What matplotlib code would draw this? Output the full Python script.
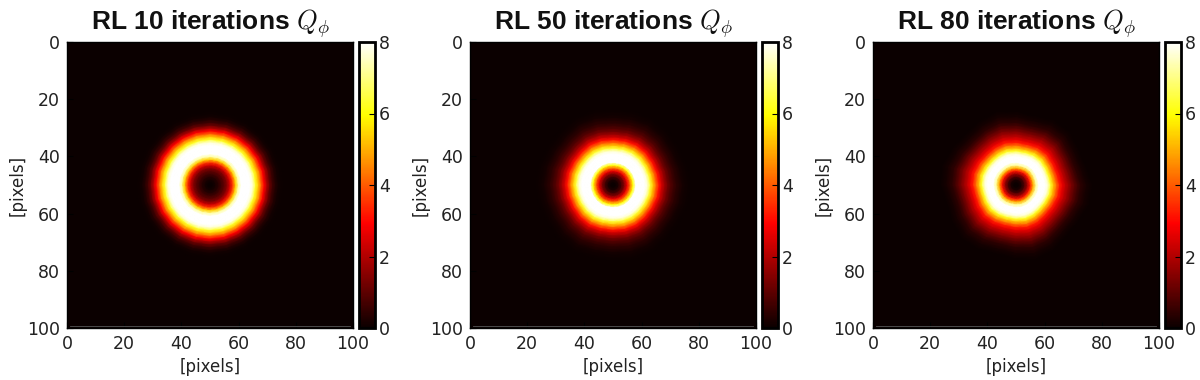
import numpy as np
import matplotlib
matplotlib.use("Agg")
import matplotlib.pyplot as plt

plt.rcParams['mathtext.fontset'] = 'cm'

# ring brightness, one value per pixel of radius from the centre
profile_10 = [0, 0.05, 0.2, 0.4, 0.7, 1.0, 1.5, 2.4, 3.6, 5.4, 7.3, 9.0, 10.0, 10.0, 9.0,
              7.6, 6.3, 5.2, 4.0, 2.9, 1.9, 1.1, 0.6, 0.3, 0.12, 0.04, 0, 0, 0, 0]
profile_50 = [0, 0.05, 0.3, 0.8, 1.5, 2.7, 4.2, 6.0, 8.0, 9.5, 10.0, 9.0, 7.6, 6.4, 5.2,
              4.1, 3.1, 2.3, 1.7, 1.2, 0.85, 0.6, 0.4, 0.25, 0.15, 0.08, 0.05, 0.02, 0, 0]
profile_80 = [0, 0.05, 0.3, 0.9, 1.8, 3.2, 5.0, 7.2, 8.8, 9.5, 8.8, 7.6, 6.3, 5.1, 4.1,
              3.2, 2.6, 2.1, 1.7, 1.3, 0.95, 0.65, 0.4, 0.25, 0.15, 0.08, 0.03, 0.01, 0, 0]

# how far the outer edge leans in or out, every 15 degrees
wobble_10 = [0] * 24
wobble_50 = [0.015, 0.008, -0.008, 0.0, 0.015, 0.008, -0.008, -0.008, 0.015, 0.008, -0.008, 0.0,
             0.015, 0.008, -0.008, -0.008, 0.015, 0.008, -0.008, 0.0, 0.015, 0.008, -0.008, 0.0]
wobble_80 = [0.03, 0.022, -0.015, -0.022, 0.015, 0.03, 0.0, -0.022, 0.008, 0.03, 0.0, -0.022,
             0.022, 0.03, 0.0, -0.022, 0.0, 0.022, 0.0, -0.022, 0.015, 0.022, -0.015, -0.015]

titles = ["RL 10 iterations $Q_\\phi$", "RL 50 iterations $Q_\\phi$", "RL 80 iterations $Q_\\phi$"]
profiles = [profile_10, profile_50, profile_80]
wobbles = [wobble_10, wobble_50, wobble_80]
axis_ticks = [0, 20, 40, 60, 80, 100]
cbar_ticks = [0, 2, 4, 6, 8]
ax_lefts = [67, 470, 873]

W, H = 1200, 380
text_color = '#222222'

fig = plt.figure(figsize=(W / 100, H / 100), dpi=100)

for title, profile, wobble, left in zip(titles, profiles, wobbles, ax_lefts):
    ax = fig.add_axes([left / W, 1 - 328 / H, 286 / W, 286 / H])
    ax.set_facecolor(plt.get_cmap('hot')(0.0))

    # rings around the centre, closed by repeating the first direction
    rings = np.arange(len(profile), dtype=float)
    stretch = np.array(wobble + wobble[:1])
    angles = np.deg2rad(np.arange(len(stretch)) * 15.0)
    rad = rings[:, None] * (1 + stretch[None, :] * rings[:, None] / 20)
    X = 50 + rad * np.cos(angles)[None, :]
    Y = 50 + rad * np.sin(angles)[None, :]
    C = np.repeat(np.array(profile)[:, None], len(stretch), axis=1)
    mesh = ax.pcolormesh(X, Y, C, cmap='hot', vmin=0, vmax=8, shading='gouraud')

    ax.axhline(99.3, xmin=0.01, xmax=0.99, color='#555555', lw=0.6)
    ax.set_xlim(0, 100)
    ax.set_ylim(100, 0)
    ax.set_aspect('equal')
    ax.set_xticks(axis_ticks)
    ax.set_yticks(axis_ticks)
    ax.tick_params(direction='in', length=4, width=0.8, labelsize=12.5,
                   labelcolor=text_color, pad=5)
    ax.set_xlabel("[pixels]", fontsize=12, color=text_color, labelpad=4)
    ax.set_ylabel("[pixels]", fontsize=12, color=text_color, labelpad=0)
    ax.set_title(title, fontsize=19, fontweight='bold', family='Liberation Sans',
                 color='#111111', pad=9)
    for spine in ax.spines.values():
        spine.set_linewidth(1.0)

    cax = fig.add_axes([(left + 292) / W, 1 - 328 / H, 16 / W, 286 / H])
    cbar = fig.colorbar(mesh, cax=cax)
    cbar.set_ticks(cbar_ticks)
    cbar.ax.tick_params(direction='in', length=4, width=0.8, labelsize=12.5,
                        labelcolor=text_color, pad=3)
    cbar.outline.set_linewidth(2.0)

fig.savefig("out.png", dpi=100)
